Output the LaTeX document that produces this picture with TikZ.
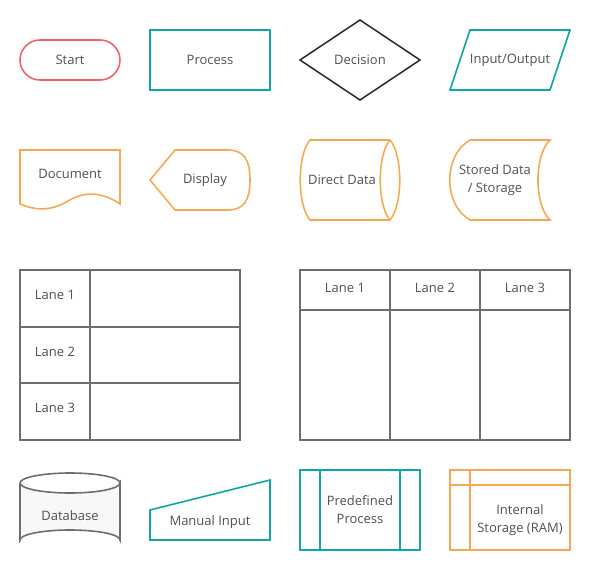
\documentclass[tikz,border=0pt]{standalone}
\usepackage{fontspec}
\setmainfont{Open Sans}
\usepackage{xcolor}
\definecolor{Ink}{HTML}{505050}
\definecolor{Red}{HTML}{F06468}
\definecolor{Teal}{HTML}{0FA8A2}
\definecolor{Orange}{HTML}{F6A94F}
\definecolor{Grey}{HTML}{6E6E6E}
\definecolor{Dark}{HTML}{333333}
\definecolor{Paper}{HTML}{F8F8F8}
\tikzset{
  shapeline/.style={line width=1.6pt, line join=miter},
  label/.style={text=Ink, font=\fontsize{13}{18}\selectfont, align=center, inner sep=0pt}
}

\begin{document}
\begin{tikzpicture}[x=1pt, y=-1pt]
        \useasboundingbox (0,0) rectangle (590,570);
        \draw[shapeline, Red, rounded corners=20pt] (20,40) rectangle (120,80);
        \node[label] (start) at (70,60) {Start};
        \draw[shapeline, Teal] (150,30) rectangle (270,90);
        \node[label] (process) at (210,60) {Process};
        \draw[shapeline, Dark] (360,20) -- (420,60) -- (360,100) -- (300,60) -- cycle;
        \node[label] (decision) at (360,60) {Decision};
        \draw[shapeline, Teal] (470,30) -- (570,30) -- (550,90) -- (450,90) -- cycle;
        \node[label] (inout) at (510,60) {Input/Output};

        \draw[shapeline, Orange] (20,204) -- (20,150) -- (120,150) -- (120,204)
          .. controls (104,193) and (86,190) .. (68,201) .. controls (50,212) and (34,210) .. (20,204);
        \node[label] (document) at (70,174) {Document};
        \draw[shapeline, Orange] (150,180) -- (175,150) -- (228,150) .. controls (244,150) and (250,160) .. (250,180)
          .. controls (250,200) and (244,210) .. (228,210) -- (175,210) -- cycle;
        \node[label] (display) at (205,180) {Display};
        \draw[shapeline, Orange] (390,140) -- (310,140) .. controls (297,155) and (297,205) .. (310,220) -- (390,220);
        \draw[shapeline, Orange] (390,140) .. controls (403,155) and (403,205) .. (390,220)
          .. controls (377,205) and (377,155) .. (390,140);
        \node[label] (direct) at (342,180) {Direct Data};
        \draw[shapeline, Orange] (470,140) -- (550,140) .. controls (534,155) and (534,205) .. (550,220)
          -- (470,220) .. controls (443,205) and (443,155) .. (470,140);
        \node[label] (stored) at (495,180) {Stored Data\\ / Storage};

        \draw[shapeline, Grey] (20,270) rectangle (240,440);
        \draw[shapeline, Grey] (90,270) -- (90,440) (20,327) -- (240,327) (20,383) -- (240,383);
        \node[label] (hlane1) at (55,295) {Lane 1};
        \node[label] (hlane2) at (55,352) {Lane 2};
        \node[label] (hlane3) at (55,408) {Lane 3};
        \draw[shapeline, Grey] (300,270) rectangle (570,440);
        \draw[shapeline, Grey] (390,270) -- (390,440) (480,270) -- (480,440) (300,310) -- (570,310);
        \node[label] (vlane1) at (345,288) {Lane 1};
        \node[label] (vlane2) at (435,288) {Lane 2};
        \node[label] (vlane3) at (525,288) {Lane 3};

        \draw[shapeline, Grey, fill=Paper] (20,483) -- (20,540) arc[start angle=180, end angle=360, x radius=50pt, y radius=-10pt]
          -- (120,483) arc[start angle=0, end angle=180, x radius=50pt, y radius=-10pt];
        \draw[shapeline, Grey] (20,483) arc[start angle=180, end angle=360, x radius=50pt, y radius=-10pt];
        \node[label] (database) at (70,516) {Database};
        \draw[shapeline, Teal] (150,510) -- (270,480) -- (270,540) -- (150,540) -- cycle;
        \node[label] (manual) at (210,522) {Manual Input};
        \draw[shapeline, Teal] (300,470) rectangle (420,550) (320,470) -- (320,550) (400,470) -- (400,550);
        \node[label] (predef) at (360,510) {Predefined\\ Process};
        \draw[shapeline, Orange] (450,470) rectangle (570,550) (470,470) -- (470,550) (450,485) -- (570,485);
        \node[label] (ram) at (520,520) {Internal\\ Storage (RAM)};
      \end{tikzpicture}
\end{document}
